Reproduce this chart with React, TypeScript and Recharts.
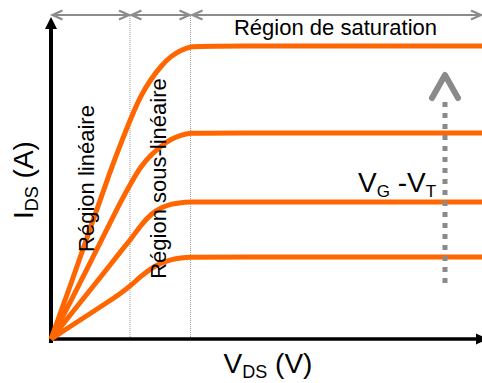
import React from 'react';
import { LineChart, Line, XAxis, YAxis, ReferenceLine, ReferenceDot } from 'recharts';

// V_DS (arbitrary units) sample positions shared by all curves
const vds = [0, 2, 4, 6, 7, 8, 9, 10, 11, 12, 13, 14, 15, 43.1];
// I_DS curves, one per gate overdrive (V_G - V_T), highest first
const ids1 = [0, 5.5, 11.3, 17.0, 19.6, 22.1, 24.4, 26.0, 27.3, 28.3, 28.9, 29.25, 29.3, 29.3];
const ids2 = [0, 3.8, 7.8, 11.8, 13.8, 15.6, 17.3, 18.4, 19.3, 20.0, 20.4, 20.6, 20.6, 20.6];
const ids3 = [0, 2.5, 5.0, 7.5, 8.8, 10.0, 11.4, 12.5, 13.15, 13.5, 13.65, 13.7, 13.7, 13.7];
const ids4 = [0, 1.3, 2.6, 3.9, 4.6, 5.35, 6.3, 7.05, 7.6, 7.95, 8.12, 8.2, 8.2, 8.2];

// Region boundaries on the V_DS axis
const regionBounds = [0, 7.9, 13.95, 43.1];
const regionLabels = ['Région linéaire', 'Région sous-linéaire', 'Région de saturation'];

const X_MAX = 43.1;
const Y_MAX = 33;
const ARROW_Y = 32.4;

const data = vds.map((v, i) => ({ vds: v, c1: ids1[i], c2: ids2[i], c3: ids3[i], c4: ids4[i] }));

const FONT = '"Liberation Sans", Arial, Helvetica, sans-serif';
const ORANGE = '#FF6600';

const doubleArrow = (p: any) => {
  const { x1, y1, x2, y2 } = p;
  const h = 10;
  const w = 4.5;
  return (
    <g stroke="#8c8c8c" strokeWidth={2.2} fill="none">
      <line x1={x1} y1={y1} x2={x2} y2={y2} />
      <polyline points={`${x1 + h},${y1 - w} ${x1},${y1} ${x1 + h},${y1 + w}`} />
      <polyline points={`${x2 - h},${y2 - w} ${x2},${y2} ${x2 - h},${y2 + w}`} />
    </g>
  );
};

const yAxisShape = (p: any) => {
  const { x1, y1, x2, y2 } = p;
  return (
    <g>
      <line x1={x1} y1={y1 + 2} x2={x2} y2={y2 + 10} stroke="#000" strokeWidth={4} />
      <polygon points={`${x2},${y2} ${x2 - 6},${y2 + 12} ${x2 + 6},${y2 + 12}`} fill="#000" />
    </g>
  );
};

const xAxisShape = (p: any) => {
  const { x1, y1, x2, y2 } = p;
  return (
    <g>
      <line x1={x1} y1={y1} x2={x2 - 10} y2={y2} stroke="#000" strokeWidth={3.5} />
      <polygon points={`${x2},${y2} ${x2 - 12},${y2 - 5.5} ${x2 - 12},${y2 + 5.5}`} fill="#000" />
    </g>
  );
};

const vgArrowShape = (p: any) => {
  const { x1, y1, x2, y2 } = p;
  return (
    <g stroke="#8a8a8a" fill="none">
      <line x1={x1} y1={y1} x2={x2} y2={y2 + 22} strokeWidth={5} strokeDasharray="5 6" />
      <polyline
        points={`${x2 - 13},${y2 + 23} ${x2},${y2} ${x2 + 13},${y2 + 23}`}
        strokeWidth={6}
        strokeLinecap="round"
        strokeLinejoin="round"
      />
    </g>
  );
};

const dottedShape = (p: any) => {
  const { x1, y1, x2, y2 } = p;
  return <line x1={x1} y1={y1} x2={x2} y2={y2} stroke="#9a9a9a" strokeWidth={1} strokeDasharray="1 1" />;
};

const rotatedLabel = (text: string) => (p: any) => (
  <text
    x={p.cx}
    y={p.cy}
    textAnchor="middle"
    fontSize={22}
    fontFamily={FONT}
    fill="#000"
    transform={`rotate(-90, ${p.cx}, ${p.cy})`}
  >
    {text}
  </text>
);

const satLabel = (p: any) => (
  <text x={p.cx} y={p.cy} textAnchor="middle" fontSize={22} fontFamily={FONT} fill="#000">
    {regionLabels[2]}
  </text>
);

const vgLabel = (p: any) => (
  <text x={p.cx} y={p.cy} fontSize={28} fontFamily={FONT} fill="#000">
    V<tspan fontSize={17} dy={5}>G</tspan>
    <tspan fontSize={28} dy={-5}>{' -V'}</tspan>
    <tspan fontSize={17} dy={5}>T</tspan>
  </text>
);

const yTitle = (p: any) => (
  <text
    x={p.cx}
    y={p.cy}
    textAnchor="middle"
    fontSize={28}
    fontFamily={FONT}
    fill="#000"
    transform={`rotate(-90, ${p.cx}, ${p.cy})`}
  >
    I<tspan fontSize={18} dy={5}>DS</tspan>
    <tspan fontSize={28} dy={-5}>{' (A)'}</tspan>
  </text>
);

const xTitle = (p: any) => (
  <text x={p.cx} y={p.cy} textAnchor="middle" fontSize={28} fontFamily={FONT} fill="#000">
    V<tspan fontSize={18} dy={5}>DS</tspan>
    <tspan fontSize={28} dy={-5}>{' (V)'}</tspan>
  </text>
);

export default function App() {
  return (
    <div style={{ position: 'absolute', left: 0, top: 0, background: '#fff' }}>
      <LineChart
        width={482}
        height={383}
        data={data}
        margin={{ top: 9, right: 0, bottom: 44, left: 51 }}
      >
        <XAxis type="number" dataKey="vds" domain={[0, X_MAX]} hide />
        <YAxis type="number" domain={[0, Y_MAX]} hide />

        {/* region boundary dotted lines */}
        <ReferenceLine
          segment={[{ x: regionBounds[1], y: 0 }, { x: regionBounds[1], y: ARROW_Y }]}
          ifOverflow="visible"
          shape={dottedShape}
        />
        <ReferenceLine
          segment={[{ x: regionBounds[2], y: 0 }, { x: regionBounds[2], y: ARROW_Y }]}
          ifOverflow="visible"
          shape={dottedShape}
        />

        {/* region span arrows */}
        <ReferenceLine
          segment={[{ x: regionBounds[0] + 0.15, y: ARROW_Y }, { x: regionBounds[1] - 0.1, y: ARROW_Y }]}
          ifOverflow="visible"
          shape={doubleArrow}
        />
        <ReferenceLine
          segment={[{ x: regionBounds[1] + 0.15, y: ARROW_Y }, { x: regionBounds[2] - 0.1, y: ARROW_Y }]}
          ifOverflow="visible"
          shape={doubleArrow}
        />
        <ReferenceLine
          segment={[{ x: regionBounds[2] + 0.2, y: ARROW_Y }, { x: regionBounds[3] - 0.1, y: ARROW_Y }]}
          ifOverflow="visible"
          shape={doubleArrow}
        />

        {/* axes with arrows */}
        <ReferenceLine
          segment={[{ x: 0, y: -0.2 }, { x: 0, y: 32.2 }]}
          ifOverflow="visible"
          shape={yAxisShape}
        />
        <ReferenceLine
          segment={[{ x: -0.2, y: 0 }, { x: 43.7, y: 0 }]}
          ifOverflow="visible"
          shape={xAxisShape}
        />

        <Line type="basis" dataKey="c1" stroke={ORANGE} strokeWidth={5} dot={false} isAnimationActive={false} />
        <Line type="basis" dataKey="c2" stroke={ORANGE} strokeWidth={5} dot={false} isAnimationActive={false} />
        <Line type="basis" dataKey="c3" stroke={ORANGE} strokeWidth={5} dot={false} isAnimationActive={false} />
        <Line type="basis" dataKey="c4" stroke={ORANGE} strokeWidth={5} dot={false} isAnimationActive={false} />

        {/* V_G - V_T increasing arrow */}
        <ReferenceLine
          segment={[{ x: 39.4, y: 5.6 }, { x: 39.4, y: 26.4 }]}
          ifOverflow="visible"
          shape={vgArrowShape}
        />

        <ReferenceDot x={4.3} y={16.05} r={0} ifOverflow="visible" shape={rotatedLabel(regionLabels[0])} />
        <ReferenceDot x={11.5} y={16.05} r={0} ifOverflow="visible" shape={rotatedLabel(regionLabels[1])} />
        <ReferenceDot x={28.45} y={30.4} r={0} ifOverflow="visible" shape={satLabel} />
        <ReferenceDot x={30.7} y={14.75} r={0} ifOverflow="visible" shape={vgLabel} />
        <ReferenceDot x={-1.8} y={15.9} r={0} ifOverflow="visible" shape={yTitle} />
        <ReferenceDot x={21.7} y={-3.4} r={0} ifOverflow="visible" shape={xTitle} />
      </LineChart>
    </div>
  );
}
